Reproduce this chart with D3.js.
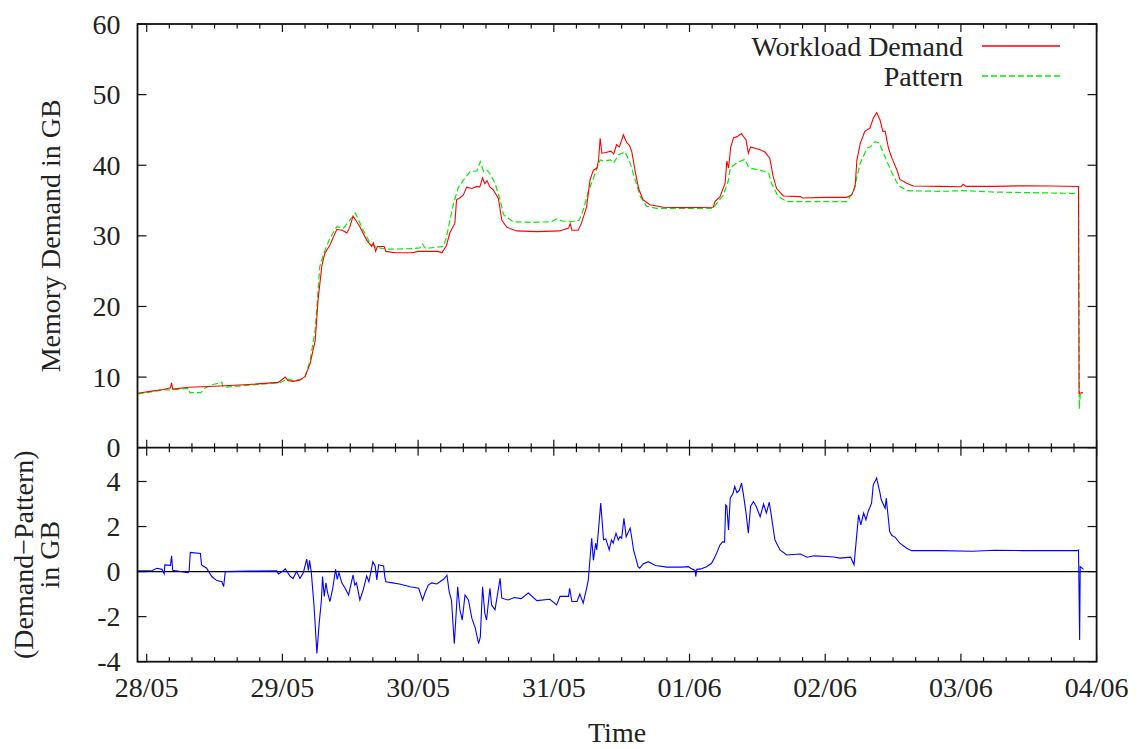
<!DOCTYPE html>
<html>
<head>
<meta charset="utf-8">
<script src="https://cdn.jsdelivr.net/npm/d3@7"></script>
<style>
  html, body { margin: 0; padding: 0; background: #fff; }
  svg { display: block; }
  text { font-family: "Liberation Serif", "Times New Roman", serif; fill: #222; }
</style>
</head>
<body>
<svg id="chart" width="1140" height="749"></svg>
<script>
// Hours since 28/05 00:00 paired with memory in GB.
const demand = [
  [-1.6,7.7],[1.2,8.05],[2.9,8.25],[4.2,8.5],[4.4,9.2],[4.6,8.3],[7.4,8.55],[12,8.7],[18,8.95],
  [23.3,9.25],[24.5,10.0],[25,9.5],[26,9.4],[27.1,9.6],[28,10.05],[28.9,11.9],[29.8,15.2],[30.3,20.9],
  [31,25.9],[31.5,27.5],[32.4,28.7],[33.6,30.9],[34.6,30.8],[35.4,30.4],[35.9,31.2],[36.5,32.8],
  [37.7,31.3],[38.9,29.4],[39.8,28.5],[40.1,29.0],[40.5,27.8],[40.8,28.5],[42.0,28.5],[42.3,27.8],
  [44,27.6],[47,27.6],[48,27.8],[51.5,27.8],[52.2,27.6],[53.0,28.6],[53.6,30.4],[54.5,31.8],
  [54.8,35.1],[55.4,35.4],[56.0,35.8],[56.6,36.9],[57.5,36.7],[58.4,37.0],[58.9,36.9],[59.4,38.2],
  [59.8,37.4],[60.2,37.8],[60.7,36.9],[61.3,36.5],[62.2,35.3],[62.8,32.2],[63.7,31.2],[65.4,30.7],
  [69,30.6],[73,30.7],[74.6,31.1],[74.9,31.7],[75.2,30.8],[76.3,30.8],[76.9,31.8],[77.8,34.1],
  [78.4,37.9],[79.0,39.3],[79.6,39.6],[79.9,40.6],[80.2,43.8],[80.5,41.7],[81.2,41.8],[82.1,42.0],
  [82.6,41.6],[83.1,42.9],[83.6,42.6],[84.3,44.3],[84.9,43.2],[85.4,42.8],[85.8,41.9],[86.4,39.1],
  [87.0,36.7],[87.8,35.1],[89.0,34.4],[91.4,34.05],[95,34.0],[100.2,34.05],[100.5,34.85],
  [101.4,35.55],[102.3,37.45],[102.6,40.6],[102.9,39.6],[103.3,42.6],[103.8,43.9],[104.4,44.05],
  [105.2,44.5],[105.6,44.0],[106.0,43.6],[106.4,41.7],[106.8,42.6],[108.5,42.2],[109.3,41.9],
  [110.2,41.0],[110.8,38.4],[111.4,36.7],[112.6,35.65],[115.6,35.55],[116,35.35],[120,35.45],
  [123.8,35.45],[124.7,35.8],[125.3,37.0],[125.6,40.7],[126.2,43.1],[127.0,44.8],[127.9,45.25],
  [128.5,46.65],[129.1,47.45],[129.7,46.4],[130.2,44.8],[130.6,44.8],[131.2,42.4],[131.8,41.0],
  [132.7,39.3],[133.2,38.0],[134.4,37.45],[135.6,37.05],[140.3,37.0],[144.0,36.95],[144.4,37.3],
  [144.9,37.0],[150,37.0],[155,37.1],[160,37.05],[164.8,37.0],[164.9,7.7],[165.6,7.8]
];

const pattern = [
  [-1.6,7.6],[3,8.2],[4.4,8.2],[7.4,8.4],[7.6,7.8],[9.6,7.8],[10.2,8.4],[11.5,8.9],[13.3,9.26],
  [13.5,8.55],[18,8.85],[23.6,9.2],[24.5,9.6],[25.0,9.7],[26,9.5],[27,9.6],[28,10.05],[28.9,12.4],
  [29.8,16.7],[30.6,25.6],[31.3,27.5],[32.4,29.65],[33.6,31.3],[34.8,31.1],[35.9,32.2],[36.9,33.2],
  [38.3,30.8],[39.5,28.95],[40.5,28.4],[42.4,28.1],[47,28.2],[48.3,28.3],[48.8,28.85],[49.3,28.2],
  [52.5,28.5],[53.0,29.8],[54.2,34.4],[55.1,36.8],[56.0,37.9],[57.2,39.1],[58.4,39.2],[59.0,40.5],
  [59.6,39.1],[60.2,39.3],[60.7,38.8],[61.6,37.45],[62.5,35.1],[63.1,33.0],[64.8,32.0],[68,31.9],
  [71.5,32.0],[72.5,32.4],[73.5,32.1],[75.0,32.0],[76.5,32.2],[77.2,33.65],[78.1,36.3],[79.0,38.15],
  [80.2,40.75],[80.8,40.6],[82.0,40.75],[82.6,40.3],[83.4,41.45],[84.6,41.9],[85.5,40.3],[86.4,37.9],
  [87.3,35.55],[88.4,34.2],[90.2,33.9],[100.2,33.9],[100.8,34.6],[102.0,35.8],[102.9,37.9],
  [103.2,39.6],[103.8,40.0],[104.5,40.4],[105.8,40.85],[106.4,39.8],[106.7,39.6],[108.5,39.3],
  [110.0,38.9],[110.5,37.45],[111.7,35.55],[113.2,34.85],[123.8,34.85],[125.0,36.3],[126.2,40.3],
  [127.4,42.4],[128.0,42.6],[128.8,43.35],[129.5,43.2],[130.3,41.7],[131.8,38.9],[132.9,37.2],
  [134.4,36.4],[140,36.3],[144.4,36.4],[150,36.2],[164.8,36.0],[164.95,5.5],[165.1,7.5],[165.6,7.6]
];

// Demand minus pattern, GB.
const difference = [
  [-1.6,0.04],[1.0,0.05],[1.8,0.15],[2.7,0.1],[3.1,-0.1],[3.2,0.3],[4.2,0.28],[4.4,0.7],[4.6,0.06],
  [7.3,-0.05],[7.5,0.0],[7.7,0.85],[9.5,0.8],[9.7,0.3],[10.6,0.15],[11.5,-0.22],[12.4,-0.4],
  [13.3,-0.45],[13.6,-0.67],[13.9,0.0],[18,0.02],[23,0.03],[23.3,-0.1],[24.2,0.05],[24.5,0.12],
  [25.4,-0.22],[25.9,-0.3],[26.5,0.0],[27.1,-0.3],[27.7,-0.05],[28.3,0.55],[28.6,0.05],[28.8,0.5],
  [29.1,0.0],[29.6,-1.55],[30.1,-3.63],[30.5,-2.3],[30.9,-1.26],[31.1,-0.22],[31.4,-1.1],[31.7,-0.5],
  [32.0,-0.95],[32.4,-1.33],[32.9,-0.75],[33.4,0.1],[33.7,-0.35],[34.0,-0.05],[34.5,-0.5],
  [35.1,-0.74],[35.7,-1.04],[36.0,-0.7],[36.5,-0.15],[36.8,-0.6],[37.1,-0.5],[37.7,-1.26],
  [38.3,-0.8],[38.9,-0.2],[39.3,-0.45],[40.0,0.44],[40.4,0.25],[40.7,-0.37],[41.0,0.3],[41.9,0.25],
  [42.1,-0.22],[42.3,-0.45],[43.5,-0.5],[44.7,-0.55],[46.6,-0.67],[48.1,-0.74],[48.8,-1.26],
  [49.2,-0.95],[49.8,-0.6],[50.4,-0.5],[51.3,-0.55],[52.5,-0.34],[53.1,-0.16],[53.5,-0.9],
  [53.9,-1.26],[54.4,-3.2],[54.8,-1.55],[55.0,-0.67],[55.4,-1.7],[55.8,-2.15],[56.3,-1.04],
  [56.9,-1.26],[57.5,-2.07],[58.1,-2.5],[58.7,-3.2],[59.0,-2.9],[59.4,-0.67],[59.8,-1.85],
  [60.1,-2.15],[60.7,-0.74],[61.0,-1.48],[61.6,-1.7],[62.5,-0.3],[62.8,-1.18],[63.9,-1.26],
  [65.0,-1.15],[66.2,-1.2],[67.5,-0.95],[69.0,-1.29],[71.3,-1.23],[72.5,-1.48],[73.1,-1.1],
  [74.6,-1.1],[74.8,-0.74],[75.2,-1.33],[76.1,-1.33],[76.6,-1.0],[77.2,-1.4],[77.8,-0.74],
  [78.1,-0.37],[78.7,1.48],[79.0,0.5],[79.4,1.26],[79.6,0.96],[80.3,3.04],[80.8,1.41],[81.2,1.45],
  [81.8,0.96],[82.2,1.41],[82.5,1.26],[83.0,1.7],[83.4,1.41],[83.7,1.55],[84.0,1.48],[84.4,2.37],
  [84.8,1.55],[85.5,1.93],[85.8,1.48],[86.1,0.96],[86.5,0.6],[86.9,0.22],[87.2,0.15],[87.8,0.34],
  [88.7,0.44],[90.0,0.27],[92.0,0.2],[94.6,0.2],[95.8,0.22],[96.2,0.15],[97.0,0.05],[97.1,-0.22],
  [97.3,0.1],[98.0,0.12],[99.0,0.22],[99.9,0.37],[100.4,0.6],[100.8,0.82],[101.4,1.19],[101.9,1.33],
  [102.2,1.3],[102.4,2.96],[102.6,2.9],[102.9,1.85],[103.2,3.26],[103.7,3.48],[104.0,3.78],
  [104.4,3.5],[104.8,3.6],[105.2,3.93],[105.5,3.48],[106.0,2.6],[106.4,1.7],[106.8,2.89],
  [107.3,3.11],[107.8,2.89],[108.5,2.44],[109.1,3.0],[109.6,2.6],[110.1,3.08],[110.5,2.44],
  [111.1,1.41],[112.0,0.96],[113.2,0.74],[115.6,0.78],[116.8,0.64],[118,0.7],[120.3,0.67],
  [121.5,0.65],[122.6,0.6],[124.5,0.64],[125.1,0.3],[125.9,2.52],[126.3,2.07],[126.8,2.6],
  [127.2,2.3],[127.6,2.67],[128.2,3.04],[128.5,3.85],[129.1,4.15],[129.7,3.48],[129.9,3.2],
  [130.6,2.81],[130.8,3.26],[131.4,1.78],[131.8,1.6],[132.4,1.52],[133.2,1.26],[134.4,1.04],
  [135.3,0.93],[140.3,0.93],[146,0.9],[150,0.95],[155,0.93],[160,0.93],[164.5,0.93],[164.8,0.96],
  [165.0,-3.04],[165.1,0.22],[165.7,0.1]
];

const topTicks = [0, 10, 20, 30, 40, 50, 60];
const bottomTicks = [-4, -2, 0, 2, 4];
const seriesNames = ["Workload Demand", "Pattern"];

const base = Date.UTC(2012, 4, 28);
const toDate = h => new Date(base + h * 3600e3);

const svg = d3.select("#chart");
const L = 137.5, R = 1096.6, T = 24, M = 447.7, B = 661.7;
const FS = 28;

const x = d3.scaleUtc().domain([toDate(-1.63), toDate(168)]).range([L, R]);
const yTop = d3.scaleLinear().domain([0, 60]).range([M, T]);
const yBot = d3.scaleLinear().domain([-4, 5.5]).range([B, M]);

const majors = d3.utcDay.range(toDate(0), toDate(168.01));
const minors = d3.utcHour.every(4).range(toDate(-1.63), toDate(168)).filter(d => d.getUTCHours() !== 0);

svg.append("defs").append("clipPath").attr("id", "clipTop")
  .append("rect").attr("x", L).attr("y", T).attr("width", R - L).attr("height", M - T);
svg.select("defs").append("clipPath").attr("id", "clipBot")
  .append("rect").attr("x", L).attr("y", M).attr("width", R - L).attr("height", B - M);

// Mirror-style tick marks pointing inside each panel
function timeTicks(y, dir) {
  const g = svg.append("g");
  g.selectAll(".mj").data(majors).join("line")
    .attr("x1", d => x(d)).attr("x2", d => x(d))
    .attr("y1", y).attr("y2", y + dir * 8)
    .attr("stroke", "#111").attr("stroke-width", 1.2);
  g.selectAll(".mn").data(minors).join("line")
    .attr("x1", d => x(d)).attr("x2", d => x(d))
    .attr("y1", y).attr("y2", y + dir * 4.5)
    .attr("stroke", "#111").attr("stroke-width", 1.2);
}
timeTicks(T, 1);
timeTicks(M, -1);
timeTicks(M, 1);
timeTicks(B, -1);

function valueTicks(scale, ticks) {
  const g = svg.append("g");
  g.selectAll(".l").data(ticks).join("line")
    .attr("x1", L).attr("x2", L + 9).attr("y1", d => scale(d)).attr("y2", d => scale(d))
    .attr("stroke", "#111").attr("stroke-width", 1.2);
  g.selectAll(".r").data(ticks).join("line")
    .attr("x1", R).attr("x2", R - 9).attr("y1", d => scale(d)).attr("y2", d => scale(d))
    .attr("stroke", "#111").attr("stroke-width", 1.2);
  g.selectAll("text").data(ticks).join("text")
    .attr("x", L - 17).attr("y", d => scale(d)).attr("dy", "0.34em")
    .attr("text-anchor", "end").attr("font-size", FS)
    .text(d => d);
}
valueTicks(yTop, topTicks);
valueTicks(yBot, bottomTicks);

// zero reference in the lower panel
svg.append("line").attr("x1", L).attr("x2", R)
  .attr("y1", yBot(0)).attr("y2", yBot(0))
  .attr("stroke", "#000").attr("stroke-width", 1.3);

const lineTop = d3.line().x(d => x(toDate(d[0]))).y(d => yTop(d[1]));
const lineBot = d3.line().x(d => x(toDate(d[0]))).y(d => yBot(d[1]));

svg.append("path").datum(pattern).attr("d", lineTop)
  .attr("clip-path", "url(#clipTop)")
  .attr("fill", "none").attr("stroke", "#00ee00").attr("stroke-width", 1.2)
  .attr("stroke-dasharray", "6,3");
svg.append("path").datum(demand).attr("d", lineTop)
  .attr("clip-path", "url(#clipTop)")
  .attr("fill", "none").attr("stroke", "#ff0000").attr("stroke-width", 1.1);
svg.append("path").datum(difference).attr("d", lineBot)
  .attr("clip-path", "url(#clipBot)")
  .attr("fill", "none").attr("stroke", "#0000ff").attr("stroke-width", 1.1);

// panel frames
svg.append("rect").attr("x", L).attr("y", T).attr("width", R - L).attr("height", B - T)
  .attr("fill", "none").attr("stroke", "#111").attr("stroke-width", 1.8);
svg.append("line").attr("x1", L).attr("x2", R).attr("y1", M).attr("y2", M)
  .attr("stroke", "#111").attr("stroke-width", 1.8);

// date labels
svg.append("g").selectAll("text").data(majors).join("text")
  .attr("x", d => x(d)).attr("y", 697)
  .attr("text-anchor", "middle").attr("font-size", FS)
  .text(d3.utcFormat("%d/%m"));

svg.append("text").attr("x", (L + R) / 2).attr("y", 742)
  .attr("text-anchor", "middle").attr("font-size", FS).text("Time");

svg.append("text")
  .attr("transform", `translate(60,${(T + M) / 2}) rotate(-90)`)
  .attr("text-anchor", "middle").attr("font-size", FS)
  .text("Memory Demand in GB");

const yl = svg.append("text")
  .attr("transform", `translate(33,${(M + B) / 2}) rotate(-90)`)
  .attr("text-anchor", "middle").attr("font-size", FS);
yl.append("tspan").attr("x", 0).attr("dy", 0).text("(Demand\u2212Pattern)");
yl.append("tspan").attr("x", 0).attr("dy", 26).text("in GB");

// legend
const legend = [
  { name: seriesNames[0], color: "#ff0000", dash: null, y: 46 },
  { name: seriesNames[1], color: "#00ee00", dash: "6,3", y: 76 }
];
const lg = svg.append("g");
lg.selectAll("text").data(legend).join("text")
  .attr("x", 963).attr("y", d => d.y).attr("dy", "0.34em")
  .attr("text-anchor", "end").attr("font-size", FS).text(d => d.name);
lg.selectAll("line").data(legend).join("line")
  .attr("x1", 982).attr("x2", 1060).attr("y1", d => d.y).attr("y2", d => d.y)
  .attr("stroke", d => d.color).attr("stroke-width", 1.3)
  .attr("stroke-dasharray", d => d.dash);
</script>
</body>
</html>
